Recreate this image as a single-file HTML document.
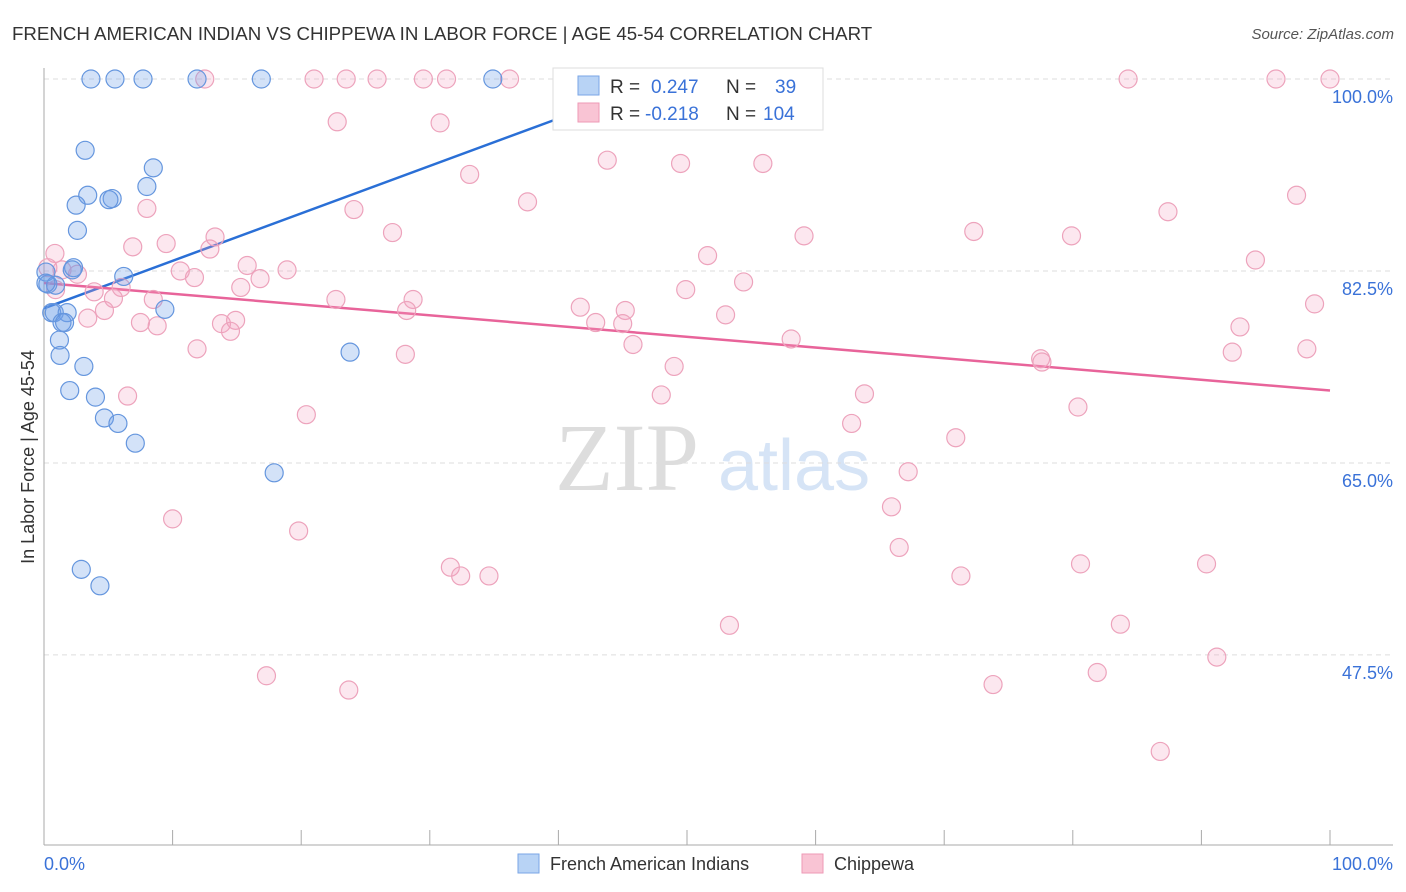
<!DOCTYPE html>
<html><head><meta charset="utf-8"><style>
body{margin:0;background:#fff;font-family:"Liberation Sans",sans-serif}
svg{display:block}
</style></head><body>
<svg id="chart" width="1406" height="892" viewBox="0 0 1406 892" xmlns="http://www.w3.org/2000/svg">
<text x="12" y="40" font-size="18.7" fill="#333" font-family="Liberation Sans, sans-serif">FRENCH AMERICAN INDIAN VS CHIPPEWA IN LABOR FORCE | AGE 45-54 CORRELATION CHART</text>
<text x="1394" y="39" font-size="15" fill="#555" font-style="italic" text-anchor="end">Source: ZipAtlas.com</text>
<g>
<text x="555" y="490" font-size="96" fill="#ddd" font-family="Liberation Serif, serif">ZIP</text>
<text x="718" y="490" font-size="72" fill="#d6e4f6">atlas</text>
</g>
<g id="grid"></g>
<g id="axes"></g>
<g id="lines"></g>
<g id="pts"></g>
<text transform="translate(34,457) rotate(-90)" font-size="18" fill="#333" text-anchor="middle">In Labor Force | Age 45-54</text>
<text x="44" y="870" font-size="18" fill="#3a72d8">0.0%</text>
<text x="1393" y="870" font-size="18" fill="#3a72d8" text-anchor="end">100.0%</text>
<g>
<rect x="553" y="68" width="270" height="62" fill="#fff" stroke="#ddd"/>
<rect x="578" y="76" width="21" height="19" fill="#b8d3f5" stroke="#7aa6e6"/>
<rect x="578" y="103" width="21" height="19" fill="#f9c4d4" stroke="#ee9ab6"/>
<text x="610" y="93" font-size="19" fill="#333">R = </text><text x="651" y="93" font-size="19" fill="#3a72d8">0.247</text>
<text x="726" y="93" font-size="19" fill="#333">N = </text><text x="775" y="93" font-size="19" fill="#3a72d8">39</text>
<text x="610" y="120" font-size="19" fill="#333">R = </text><text x="645" y="120" font-size="19" fill="#3a72d8">-0.218</text>
<text x="726" y="120" font-size="19" fill="#333">N = </text><text x="763" y="120" font-size="19" fill="#3a72d8">104</text>
</g>
<g>
<rect x="518" y="854" width="21" height="19" fill="#b8d3f5" stroke="#7aa6e6"/>
<text x="550" y="870" font-size="18" fill="#333">French American Indians</text></g>
<g>
<rect x="802" y="854" width="21" height="19" fill="#f9c4d4" stroke="#ee9ab6"/>
<text x="834" y="870" font-size="18" fill="#333">Chippewa</text></g>
</svg>
<script>
const yTicks=[100,82.5,65,47.5];
const yTickLabels=["100.0%","82.5%","65.0%","47.5%"];
const blueX=[3.65,5.52,7.7,11.9,16.9,34.9,3.2,8.5,8.0,3.4,5.3,5.05,2.5,2.6,2.3,0.15,0.3,0.9,6.2,0.6,0.8,1.8,1.4,1.6,9.4,1.2,1.25,3.1,2.0,4.0,4.7,5.75,7.1,17.9,2.9,4.35,23.8,0.15,2.2];
const blueY=[100,100,100,100,100,100,93.5,91.9,90.2,89.4,89.1,89.0,88.5,86.2,82.8,82.4,81.3,81.2,82.0,78.7,78.7,78.7,77.8,77.8,79.0,76.2,74.8,73.8,71.6,71.0,69.1,68.6,66.8,64.1,55.3,53.8,75.1,81.4,82.6];
const pinkX=[12.5,21.0,23.5,25.9,29.5,31.3,36.2,46.3,84.3,95.8,100,22.8,30.8,43.8,49.5,55.9,33.1,37.6,8.0,24.1,97.4,87.4,27.1,13.3,59.1,72.3,79.9,6.9,9.5,12.9,0.85,51.6,94.2,0.3,1.4,2.6,10.6,11.7,15.8,18.9,16.8,54.4,15.3,49.9,3.9,0.9,5.4,8.5,22.7,28.7,41.7,45.2,6.0,4.7,3.4,28.2,53.0,98.8,7.5,8.8,13.8,14.9,14.5,42.9,45.0,93.0,11.9,28.1,45.8,58.1,92.4,98.2,77.5,77.6,49.0,6.5,48.0,63.8,80.4,20.4,62.8,70.9,67.2,65.9,10.0,19.8,66.5,31.6,32.4,34.6,71.3,80.6,90.4,53.3,83.7,91.2,81.9,17.3,73.8,23.7,86.8];
const pinkY=[100,100,100,100,100,100,100,100,100,100,100,96.1,96.0,92.6,92.3,92.3,91.3,88.8,88.2,88.1,89.4,87.9,86.0,85.6,85.7,86.1,85.7,84.7,85.0,84.5,84.1,83.9,83.5,82.8,82.6,82.2,82.5,81.9,83.0,82.6,81.8,81.5,81.0,80.8,80.6,80.8,80.0,79.9,79.9,79.9,79.2,78.9,81.0,78.9,78.2,78.9,78.5,79.5,77.8,77.5,77.7,78.0,77.0,77.8,77.7,77.4,75.4,74.9,75.8,76.3,75.1,75.4,74.5,74.2,73.8,71.1,71.2,71.3,70.1,69.4,68.6,67.3,64.2,61.0,59.9,58.8,57.3,55.5,54.7,54.7,54.7,55.8,55.8,50.2,50.3,47.3,45.9,45.6,44.8,44.3,38.7];
const blueTrend=[79.1,0.173];
const pinkTrend=[81.4,-0.098];
const NS="http://www.w3.org/2000/svg";
const sx=v=>44+v*12.86;
const sy=v=>79+(100-v)*10.97;
function mk(tag,attrs,parent){const e=document.createElementNS(NS,tag);for(const k in attrs)e.setAttribute(k,attrs[k]);document.getElementById(parent).appendChild(e);return e;}
yTicks.forEach((t,i)=>{
  const g=mk('line',{x1:44,x2:1393,y1:sy(t),y2:sy(t),stroke:'#ddd','stroke-dasharray':'5,4'},'grid');
  
  
  const tx=mk('text',{x:1393,y:sy(t)+24,'font-size':18,fill:'#3a72d8','text-anchor':'end'},'grid');
  tx.textContent=yTickLabels[i];
  
  
});
const ya=mk('line',{x1:44,x2:44,y1:68,y2:845,stroke:'#aaa'},'axes');


const xa=mk('line',{x1:44,x2:1393,y1:845,y2:845,stroke:'#aaa'},'axes');


for(let i=0;i<=10;i++){const t=mk('line',{x1:sx(i*10),x2:sx(i*10),y1:830,y2:845,stroke:'#aaa'},'axes');

}
function dots(xs,ys,fill,stroke,name){xs.forEach((x,i)=>{const c=mk('circle',{cx:sx(x),cy:sy(ys[i]),r:9,fill:fill,stroke:stroke,'stroke-width':1.2},'pts');

});}
dots(pinkX,pinkY,'rgba(244,160,190,0.25)','#eda3bc','chippewa-point');
dots(blueX,blueY,'rgba(110,160,232,0.3)','#6596de','french-american-indian-point');
const bl=mk('line',{x1:sx(0),y1:sy(blueTrend[0]),x2:sx(40),y2:sy(blueTrend[0]+blueTrend[1]*40*2.5),stroke:'#2a6fd6','stroke-width':2.5},'lines');


const bd=mk('line',{x1:sx(40),y1:sy(blueTrend[0]+blueTrend[1]*40*2.5),x2:sx(46.5),y2:sy(blueTrend[0]+blueTrend[1]*46.5*2.5),stroke:'#9bbbe8','stroke-width':1.2,'stroke-dasharray':'4,3'},'lines');


const pl=mk('line',{x1:sx(0),y1:sy(pinkTrend[0]),x2:sx(100),y2:sy(pinkTrend[0]+pinkTrend[1]*100),stroke:'#e8649a','stroke-width':2.5},'lines');


</script>
</body></html>
